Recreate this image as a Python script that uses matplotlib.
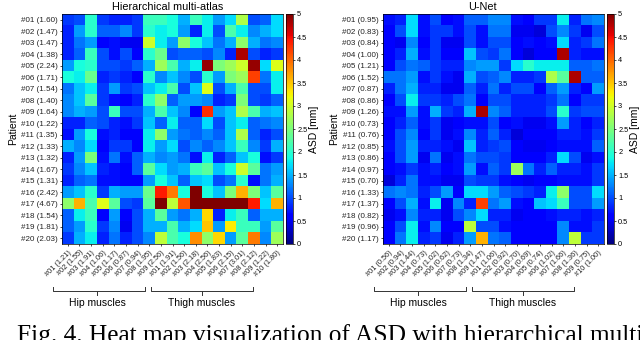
import numpy as np
import matplotlib
matplotlib.use("Agg")
import matplotlib.pyplot as plt
from matplotlib.lines import Line2D

plt.rcParams['font.family'] = ['Liberation Sans', 'DejaVu Sans']

# ---------------- data ----------------
hip_names = ["#01", "#02", "#03", "#04", "#05", "#06", "#07", "#08", "#09"]
thigh_names = ["#01", "#02", "#03", "#04", "#05", "#06", "#07", "#08", "#09", "#10"]
patients = ["#%02d" % i for i in range(1, 21)]

hma_patient_mean = [1.60, 1.47, 1.47, 1.38, 2.24, 1.71, 1.54, 1.40, 1.64, 1.22,
                    1.35, 1.33, 1.32, 1.67, 1.31, 2.42, 4.67, 1.54, 1.81, 2.03]
hma_muscle_mean = [1.21, 1.55, 1.91, 1.06, 1.17, 0.87, 0.94, 1.95, 2.56,
                   1.91, 1.56, 2.18, 2.56, 1.83, 2.15, 3.01, 2.12, 1.22, 1.80]
unet_patient_mean = [0.95, 0.83, 0.84, 1.00, 1.21, 1.52, 0.87, 0.86, 1.26, 0.73,
                     0.76, 0.85, 0.86, 0.97, 0.70, 1.33, 1.37, 0.82, 0.96, 1.17]
unet_muscle_mean = [0.56, 0.94, 1.44, 0.73, 1.02, 0.62, 0.73, 1.34, 1.47,
                    1.06, 0.92, 0.70, 0.69, 0.74, 1.02, 1.66, 1.36, 0.75, 1.00]

hma_asd = [
    [0.9, 1.0, 2.0, 0.9, 0.8, 0.8, 0.9, 2.1, 2.1, 1.9, 1.5, 2.1, 1.8, 1.4, 1.7, 2.8, 1.0, 1.1, 1.7],
    [0.8, 1.4, 2.0, 1.1, 1.1, 1.3, 0.9, 2.0, 1.8, 1.9, 1.4, 0.8, 1.8, 1.0, 2.2, 1.8, 1.3, 1.5, 1.7],
    [0.8, 1.2, 1.4, 0.6, 0.7, 0.5, 0.5, 3.0, 1.8, 1.4, 2.6, 1.9, 1.6, 1.2, 1.5, 2.6, 1.5, 1.2, 1.3],
    [0.8, 1.1, 2.1, 1.0, 0.7, 1.0, 0.6, 2.0, 2.4, 1.0, 1.1, 1.1, 1.0, 1.3, 0.8, 4.8, 1.0, 0.8, 0.9],
    [1.4, 1.9, 2.0, 1.0, 1.0, 0.9, 1.1, 1.5, 2.7, 2.2, 1.5, 1.8, 4.9, 2.5, 2.7, 3.0, 4.9, 1.7, 3.1],
    [1.9, 1.8, 2.4, 0.8, 0.9, 0.8, 0.6, 2.0, 1.3, 1.6, 1.3, 1.0, 2.0, 1.4, 2.5, 2.7, 4.2, 1.2, 1.8],
    [1.2, 1.6, 1.8, 0.9, 1.4, 0.9, 1.0, 1.6, 1.8, 2.2, 1.0, 1.6, 3.1, 1.0, 1.5, 2.2, 1.0, 1.0, 1.8],
    [1.3, 1.6, 2.3, 0.9, 0.7, 0.6, 0.8, 2.0, 2.6, 1.1, 1.4, 1.4, 1.3, 0.8, 0.9, 2.5, 1.0, 0.9, 1.1],
    [1.3, 1.5, 1.4, 1.0, 2.1, 1.0, 1.0, 1.5, 2.2, 1.6, 1.3, 0.6, 4.3, 1.4, 1.6, 2.8, 2.2, 1.5, 1.6],
    [0.8, 0.8, 1.1, 1.0, 0.8, 0.7, 0.9, 1.6, 1.1, 1.8, 1.1, 1.1, 1.7, 1.0, 1.6, 1.8, 1.1, 1.2, 1.3],
    [0.7, 1.4, 1.9, 0.7, 0.8, 0.6, 0.6, 1.8, 2.6, 1.4, 1.2, 1.1, 1.3, 1.1, 1.6, 2.8, 1.1, 0.8, 1.0],
    [1.5, 1.3, 1.7, 0.6, 0.9, 0.9, 0.6, 1.8, 1.4, 1.7, 1.0, 1.3, 1.1, 1.3, 1.6, 2.1, 1.3, 0.9, 1.5],
    [0.8, 1.4, 2.5, 0.7, 1.2, 0.7, 1.1, 1.5, 1.3, 1.4, 1.2, 0.7, 1.8, 0.8, 1.1, 1.6, 1.9, 0.7, 0.9],
    [0.9, 1.3, 1.6, 0.8, 0.7, 0.6, 1.1, 2.3, 1.7, 1.4, 1.5, 2.1, 2.3, 1.6, 1.9, 3.0, 2.3, 1.2, 1.4],
    [0.8, 1.1, 1.2, 0.7, 0.7, 0.6, 0.6, 1.4, 1.9, 1.6, 1.1, 1.6, 1.7, 1.0, 1.2, 2.0, 0.7, 1.2, 1.5],
    [1.4, 1.6, 2.0, 0.9, 1.5, 1.4, 1.4, 2.4, 4.4, 3.9, 1.9, 5.0, 1.9, 1.6, 2.5, 3.6, 2.5, 1.6, 2.3],
    [2.6, 3.6, 2.2, 3.1, 2.3, 1.0, 0.9, 2.3, 7.5, 2.9, 4.1, 9.0, 9.0, 9.0, 9.0, 9.0, 4.4, 1.7, 3.6],
    [1.1, 1.8, 2.1, 0.6, 1.4, 0.6, 1.0, 1.5, 2.3, 1.4, 1.2, 1.5, 3.4, 0.8, 1.8, 2.1, 1.1, 1.5, 1.5],
    [1.1, 1.4, 2.0, 0.9, 1.3, 0.5, 1.0, 1.5, 1.5, 2.2, 1.5, 1.7, 3.5, 1.4, 3.3, 2.1, 2.1, 1.4, 2.3],
    [0.9, 1.5, 1.8, 0.8, 1.2, 0.8, 1.0, 1.3, 2.9, 2.2, 1.9, 3.8, 2.6, 3.4, 1.4, 2.3, 3.9, 1.3, 2.7],
]

unet_asd = [
    [0.7, 0.8, 1.7, 0.7, 1.0, 0.6, 0.7, 1.1, 1.1, 1.3, 1.3, 0.7, 0.6, 0.9, 0.9, 1.8, 0.8, 1.2, 1.3],
    [0.6, 1.0, 1.7, 0.7, 0.9, 0.9, 0.7, 1.0, 0.7, 1.2, 1.2, 0.5, 0.5, 0.4, 1.0, 1.3, 0.9, 0.5, 1.0],
    [0.6, 0.5, 1.3, 0.6, 0.9, 0.5, 0.5, 1.0, 0.7, 1.0, 1.0, 0.6, 0.7, 0.6, 0.7, 1.7, 0.8, 0.9, 1.2],
    [0.6, 0.8, 1.5, 0.7, 0.9, 0.6, 0.6, 1.6, 1.0, 0.9, 1.2, 0.6, 0.4, 0.6, 0.6, 4.8, 0.8, 0.7, 0.7],
    [0.6, 1.0, 1.2, 1.1, 0.9, 0.8, 0.8, 1.3, 1.4, 1.4, 0.9, 1.7, 2.0, 1.8, 1.8, 1.8, 1.1, 1.1, 1.2],
    [1.2, 1.2, 1.4, 0.7, 0.9, 0.7, 0.5, 1.5, 1.0, 1.1, 1.3, 0.8, 0.8, 0.9, 2.8, 2.3, 4.8, 1.1, 1.1],
    [0.8, 1.2, 1.5, 0.8, 0.8, 0.5, 0.5, 1.1, 0.8, 1.2, 0.8, 1.0, 1.0, 0.6, 1.1, 1.4, 0.8, 0.6, 1.4],
    [0.6, 1.0, 1.8, 0.9, 0.9, 0.8, 1.0, 1.2, 0.6, 1.0, 1.0, 0.8, 0.8, 0.8, 0.9, 1.2, 0.6, 0.9, 0.9],
    [0.7, 0.7, 1.4, 0.7, 1.5, 0.9, 0.8, 1.5, 4.8, 1.3, 1.1, 0.8, 0.8, 0.8, 1.0, 2.0, 0.9, 1.0, 1.0],
    [0.6, 0.8, 1.1, 0.7, 0.9, 0.5, 0.6, 0.7, 0.7, 1.0, 0.6, 0.7, 0.5, 0.5, 0.7, 1.4, 0.8, 0.6, 0.8],
    [0.6, 1.0, 1.3, 0.6, 0.9, 0.5, 0.7, 1.3, 0.8, 1.1, 0.8, 0.4, 0.6, 0.6, 0.6, 0.8, 0.8, 0.7, 0.9],
    [0.7, 1.0, 1.4, 0.8, 0.8, 0.7, 0.5, 1.6, 0.8, 0.9, 1.0, 0.6, 0.5, 0.5, 0.6, 0.7, 0.7, 0.7, 1.1],
    [0.6, 1.0, 1.4, 0.5, 1.2, 0.5, 0.7, 1.2, 1.0, 1.0, 0.9, 0.6, 0.6, 0.6, 0.8, 1.7, 1.0, 0.5, 0.7],
    [0.6, 0.7, 0.9, 0.7, 0.8, 0.6, 0.7, 1.4, 0.7, 1.1, 0.9, 2.7, 1.2, 0.8, 1.1, 0.8, 0.8, 0.7, 0.9],
    [0.4, 0.8, 1.2, 0.7, 0.7, 0.5, 0.5, 1.0, 0.9, 0.9, 0.7, 0.6, 0.5, 0.6, 0.6, 0.7, 0.7, 0.7, 0.9],
    [1.2, 1.3, 1.2, 0.8, 1.0, 1.4, 0.6, 1.7, 1.7, 1.4, 1.1, 1.0, 0.9, 0.8, 1.8, 2.6, 1.0, 1.0, 1.7],
    [0.6, 1.0, 1.5, 0.7, 1.8, 0.5, 1.3, 0.8, 4.2, 1.2, 1.4, 0.7, 0.6, 1.6, 1.7, 2.1, 1.0, 1.0, 1.4],
    [0.5, 0.7, 1.3, 0.8, 0.8, 0.5, 1.0, 1.3, 1.7, 0.8, 0.8, 0.5, 0.6, 0.6, 0.7, 0.8, 0.8, 0.7, 0.8],
    [0.6, 1.0, 1.8, 0.7, 1.3, 0.6, 0.6, 2.9, 1.0, 1.0, 0.7, 0.6, 0.6, 0.6, 0.6, 1.3, 0.7, 0.7, 0.9],
    [0.6, 1.2, 1.8, 0.8, 0.9, 0.5, 0.8, 1.4, 3.6, 1.2, 1.1, 0.6, 0.6, 0.6, 0.6, 1.3, 2.9, 0.9, 0.9],
]

titles = ["Hierarchical multi-atlas", "U-Net"]
cbar_ticks = [0, 0.5, 1, 1.5, 2, 2.5, 3, 3.5, 4, 4.5, 5]
caption = "Fig. 4. Heat map visualization of ASD with hierarchical multi-atlas and U-Net."

# ---------------- layout ----------------
W, H = 640, 340
fig = plt.figure(figsize=(W / 100, H / 100), dpi=100)


def box(x0, y0, x1, y1):
    return [x0 / W, 1 - y1 / H, (x1 - x0) / W, (y1 - y0) / H]


def fpt(x, y):
    return x / W, 1 - y / H


def draw_panel(dx, data, pmean, mmean, title, title_x):
    ax = fig.add_axes(box(62 + dx, 14, 283 + dx, 244))
    cax = fig.add_axes(box(286 + dx, 14, 293 + dx, 244))
    im = ax.imshow(np.array(data), cmap='jet', vmin=0, vmax=5,
                   aspect='auto', interpolation='nearest')
    ax.set_yticks(range(len(patients)))
    ax.set_yticklabels(["%s (%.2f)" % (p, m) for p, m in zip(patients, pmean)],
                       fontsize=5.8, color='#222222')
    names = hip_names + thigh_names
    ax.set_xticks(range(len(names)))
    ax.set_xticklabels(["%s (%.2f)" % (n, m) for n, m in zip(names, mmean)],
                       fontsize=5.3, rotation=45, ha='right', va='top',
                       rotation_mode='anchor', color='#222222')
    ax.tick_params(axis='both', length=1.5, width=0.5, pad=1.5)
    ax.tick_params(axis='x', pad=2)
    ax.set_ylabel("Patient", fontsize=7.5, labelpad=2)
    ax.set_title(title, fontsize=7.8, pad=3, x=title_x)
    for s in ax.spines.values():
        s.set_linewidth(0.5)
    cb = fig.colorbar(im, cax=cax, ticks=cbar_ticks)
    cb.ax.set_yticklabels(["%g" % t for t in cbar_ticks], fontsize=5.3)
    cb.ax.tick_params(length=1.5, width=0.5, pad=1.5)
    cb.outline.set_linewidth(0.5)
    cb.set_label("ASD [mm]", fontsize=7.5, labelpad=1)

    # group braces
    for (x0, x1, xc), label in [((53, 145, 97), "Hip muscles"),
                                ((151, 253, 202), "Thigh muscles")]:
        x0 += dx; x1 += dx; xc += dx
        xs, ys = zip(*[fpt(x0, 287), fpt(x0, 291), fpt(x1, 291), fpt(x1, 287)])
        fig.add_artist(Line2D(xs, ys, color='#333333', lw=0.7))
        xs, ys = zip(*[fpt(xc, 291), fpt(xc, 295)])
        fig.add_artist(Line2D(xs, ys, color='#333333', lw=0.7))
        tx, ty = fpt(xc, 303)
        fig.text(tx, ty, label, fontsize=7.5, ha='center', va='center')


draw_panel(0, hma_asd, hma_patient_mean, hma_muscle_mean, titles[0], 0.48)
draw_panel(321, unet_asd, unet_patient_mean, unet_muscle_mean, titles[1], 0.45)

cx, cy = fpt(17, 342)
fig.text(cx, cy, caption, fontsize=18.3, family='Liberation Serif',
         ha='left', va='baseline')

fig.savefig("out.png", dpi=100)
